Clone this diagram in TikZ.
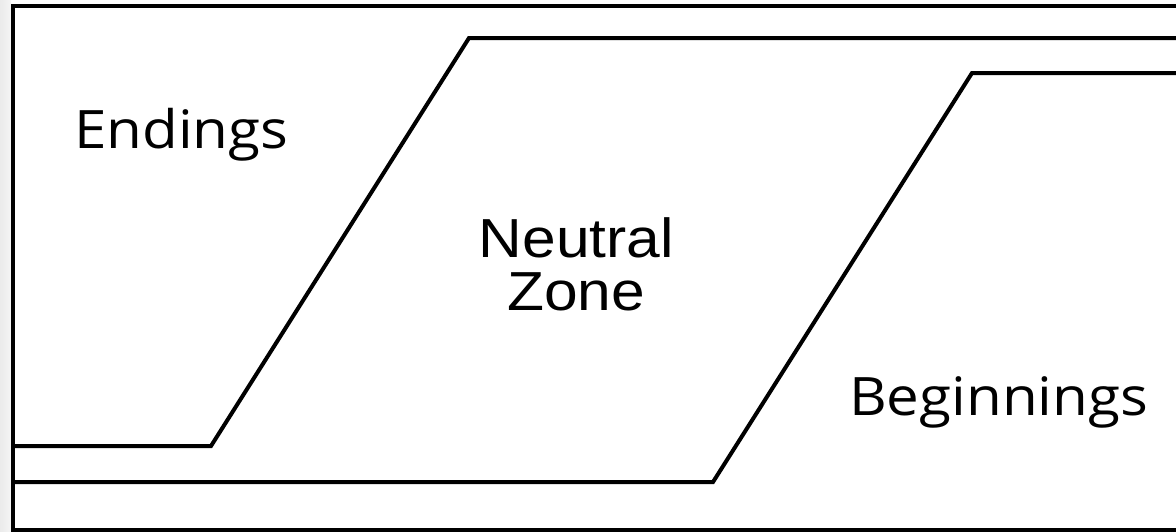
\documentclass[tikz,border=0pt]{standalone}
\usepackage{fontspec}
\setmainfont{Open Sans}
\newfontfamily\arialfont{Liberation Sans}
\newcommand{\wide}[1]{\scalebox{1.1}[1]{#1}}
\begin{document}
\begin{tikzpicture}[x=1pt,y=-1pt,
  edge/.style={line width=4pt, line join=miter, line cap=butt},
  lbl/.style={font=\fontsize{53}{60}\selectfont, inner sep=0pt},
  lblz/.style={font=\arialfont\fontsize{55}{53}\selectfont, inner sep=0pt}]
\useasboundingbox (0,0) rectangle (1176,531);
\fill[white] (0,0) rectangle (1176,531);
\shade[left color=black!8, right color=black!4] (0,0) rectangle (11,531);
% frame
\coordinate (tr) at (1180,5.5);
\coordinate (tl) at (13,5.5);
\coordinate (bl) at (13,529.5);
\coordinate (br) at (1180,529.5);
\draw[edge] (tr) -- (tl) -- (bl) -- (br);
% endings boundary
\coordinate (e0) at (13,446);
\coordinate (e1) at (211,446);
\coordinate (e2) at (469,38);
\coordinate (e3) at (1180,38);
\draw[edge] (e0) -- (e1) -- (e2) -- (e3);
% beginnings boundary
\coordinate (b0) at (13,482);
\coordinate (b1) at (713,482);
\coordinate (b2) at (972,73);
\coordinate (b3) at (1180,73);
\draw[edge] (b0) -- (b1) -- (b2) -- (b3);
% labels
\node[lbl, anchor=base west] (endings) at (74,148) {\wide{Endings}};
\node[lblz, anchor=base] (neutral) at (576.5,257) {\wide{Neutral}};
\node[lblz, anchor=base] (zone) at (576,310) {\wide{Zone}};
\node[lbl, anchor=base west] (beginnings) at (849,415) {\wide{Beginnings}};
\end{tikzpicture}
\end{document}
